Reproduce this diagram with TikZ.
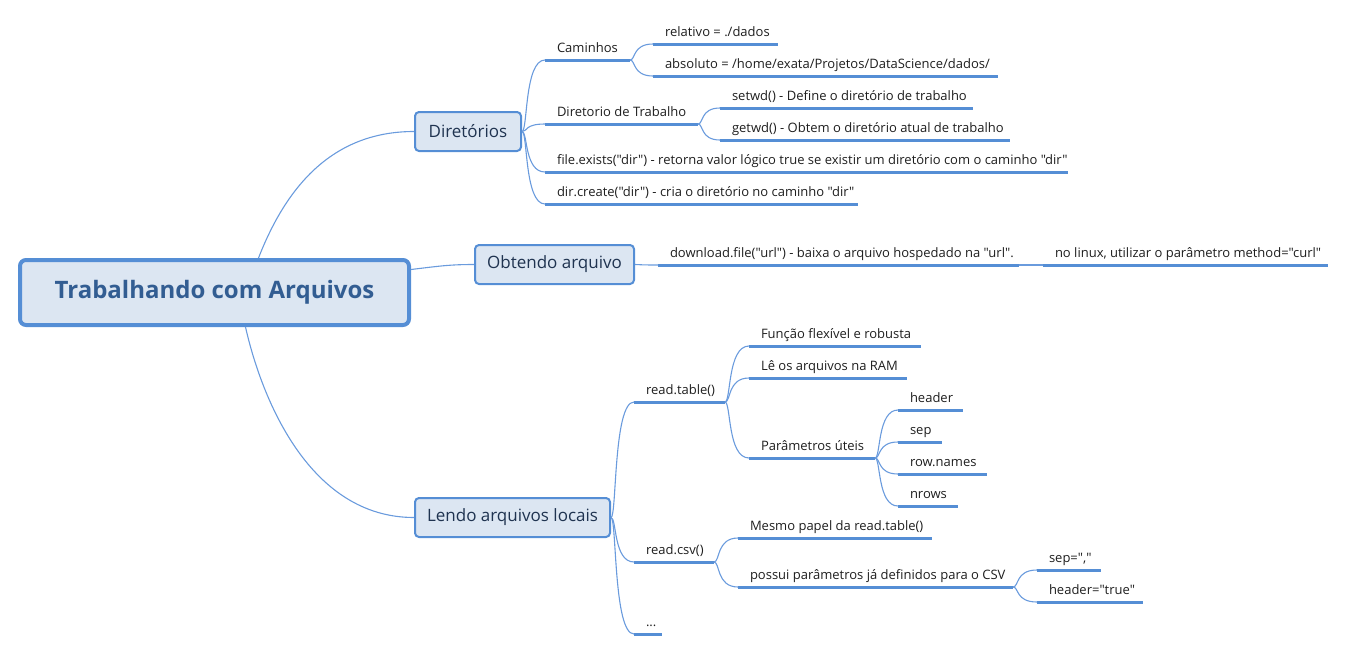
\documentclass[tikz,border=0pt]{standalone}
\usepackage{fontspec}
\setmainfont{Open Sans}[Ligatures=TeXOff]
\usetikzlibrary{calc}
\definecolor{bfill}{HTML}{DCE6F2}
\definecolor{bline}{HTML}{558ED5}
\definecolor{cline}{HTML}{6A9BDD}
\definecolor{roottxt}{HTML}{325D92}
\definecolor{brtxt}{HTML}{1F3350}
\definecolor{txt}{HTML}{1E1E1E}
\newcommand\tpc[4]{\node[topic] (#1) at (#2) {\makebox[#3pt][l]{#4}};\draw[uline] (#1.south west) -- (#1.south east);}
\begin{document}
\begin{tikzpicture}[x=1pt,y=-1pt,
  root/.style={draw=bline, fill=bfill, line width=4pt, rounded corners=6pt, minimum width=389pt, minimum height=65pt, font=\fontsize{24}{28}\selectfont\bfseries, text=roottxt, inner sep=0pt},
  branch/.style={draw=bline, fill=bfill, line width=2pt, rounded corners=4pt, minimum height=39pt, font=\fontsize{17}{20}\selectfont, text=brtxt, inner sep=0pt},
  topic/.style={anchor=south west, inner xsep=12pt, inner ysep=8pt, text depth=0pt, outer sep=0pt, font=\fontsize{13}{16}\selectfont, text=txt},
  uline/.style={draw=bline, line width=3pt},
  conn/.style={draw=cline, line width=1.1pt, to path={let \p1=(\tikztostart), \p2=(\tikztotarget) in .. controls ({\x1+0.25*(\x2-\x1)},\y1) and ({\x1+0.1*(\x2-\x1)},\y2) .. (\tikztotarget)}},
  bigconn/.style={draw=cline, line width=1.1pt},
]
\useasboundingbox (0,0) rectangle (1346,651);

% main branches
\node[root] (root) at (214.5,292.5) {Trabalhando com Arquivos};
\node[branch, minimum width=106pt] (dir) at (468,131.5) {Diretórios};
\node[branch, minimum width=159pt] (obt) at (554.5,264.5) {Obtendo arquivo};
\node[branch, minimum width=195pt] (len) at (512.5,517.5) {Lendo arquivos locais};

\draw[bigconn] ([xshift=44pt]root.north) .. controls (285,190) and (330,131.5) .. (dir.west);
\draw[bigconn] ([yshift=23pt]root.east) .. controls (440,266) and (450,264.5) .. (obt.west);
\draw[bigconn] ([xshift=31pt]root.south) .. controls (262,400) and (310,517.5) .. (len.west);

% Diretorios
\tpc{cam}{545,60}{61}{Caminhos}
\tpc{rel}{653,44}{101}{relativo = ./dados}
\tpc{abs}{653,76}{321}{absoluto = /home/exata/Projetos/DataScience/dados/}
\tpc{dtr}{545,124}{129}{Diretorio de Trabalho}
\tpc{setwd}{720,108}{229}{setwd() - Define o diretório de trabalho}
\tpc{getwd}{720,140}{266}{getwd() - Obtem o diretório atual de trabalho}
\tpc{fex}{545,172}{499}{file.exists("dir") - retorna valor lógico true se existir um diretório com o caminho "dir"}
\tpc{dcr}{545,204}{289}{dir.create("dir") - cria o diretório no caminho "dir"}

\draw[conn] (dir.east) to (cam.south west);
\draw[conn] (dir.east) to (dtr.south west);
\draw[conn] (dir.east) to (fex.south west);
\draw[conn] (dir.east) to (dcr.south west);
\draw[conn] (cam.south east) to (rel.south west);
\draw[conn] (cam.south east) to (abs.south west);
\draw[conn] (dtr.south east) to (setwd.south west);
\draw[conn] (dtr.south east) to (getwd.south west);

% Obtendo arquivo
\tpc{dl}{658,265}{337}{download.file("url") - baixa o arquivo hospedado na "url".}
\tpc{lin}{1043,265}{261}{no linux, utilizar o parâmetro method="curl"}
\draw[conn] (obt.east) to (dl.south west);
\draw[conn] (dl.south east) to (lin.south west);

% Lendo arquivos locais
\tpc{rt}{634,402}{67}{read.table()}
\tpc{fun}{749,346}{148}{Função flexível e robusta}
\tpc{le}{749,378}{134}{Lê os arquivos na RAM}
\tpc{par}{749,458}{102}{Parâmetros úteis}
\tpc{hd}{898,410}{41}{header}
\tpc{sp}{898,442}{20}{sep}
\tpc{rn}{898,474}{65}{row.names}
\tpc{nr}{898,506}{36}{nrows}
\tpc{rc}{634,562}{56}{read.csv()}
\tpc{mes}{738,538}{170}{Mesmo papel da read.table()}
\tpc{pos}{738,587}{251}{possui parâmetros já definidos para o CSV}
\tpc{spc}{1037,570}{40}{sep=","}
\tpc{hdt}{1037,602}{82}{header="true"}
\tpc{dots}{634,634}{4}{...}

\draw[conn] (len.east) to (rt.south west);
\draw[conn] (len.east) to (rc.south west);
\draw[conn] (len.east) to (dots.south west);
\draw[conn] (rt.south east) to (fun.south west);
\draw[conn] (rt.south east) to (le.south west);
\draw[conn] (rt.south east) to (par.south west);
\draw[conn] (par.south east) to (hd.south west);
\draw[conn] (par.south east) to (sp.south west);
\draw[conn] (par.south east) to (rn.south west);
\draw[conn] (par.south east) to (nr.south west);
\draw[conn] (rc.south east) to (mes.south west);
\draw[conn] (rc.south east) to (pos.south west);
\draw[conn] (pos.south east) to (spc.south west);
\draw[conn] (pos.south east) to (hdt.south west);
\end{tikzpicture}
\end{document}
